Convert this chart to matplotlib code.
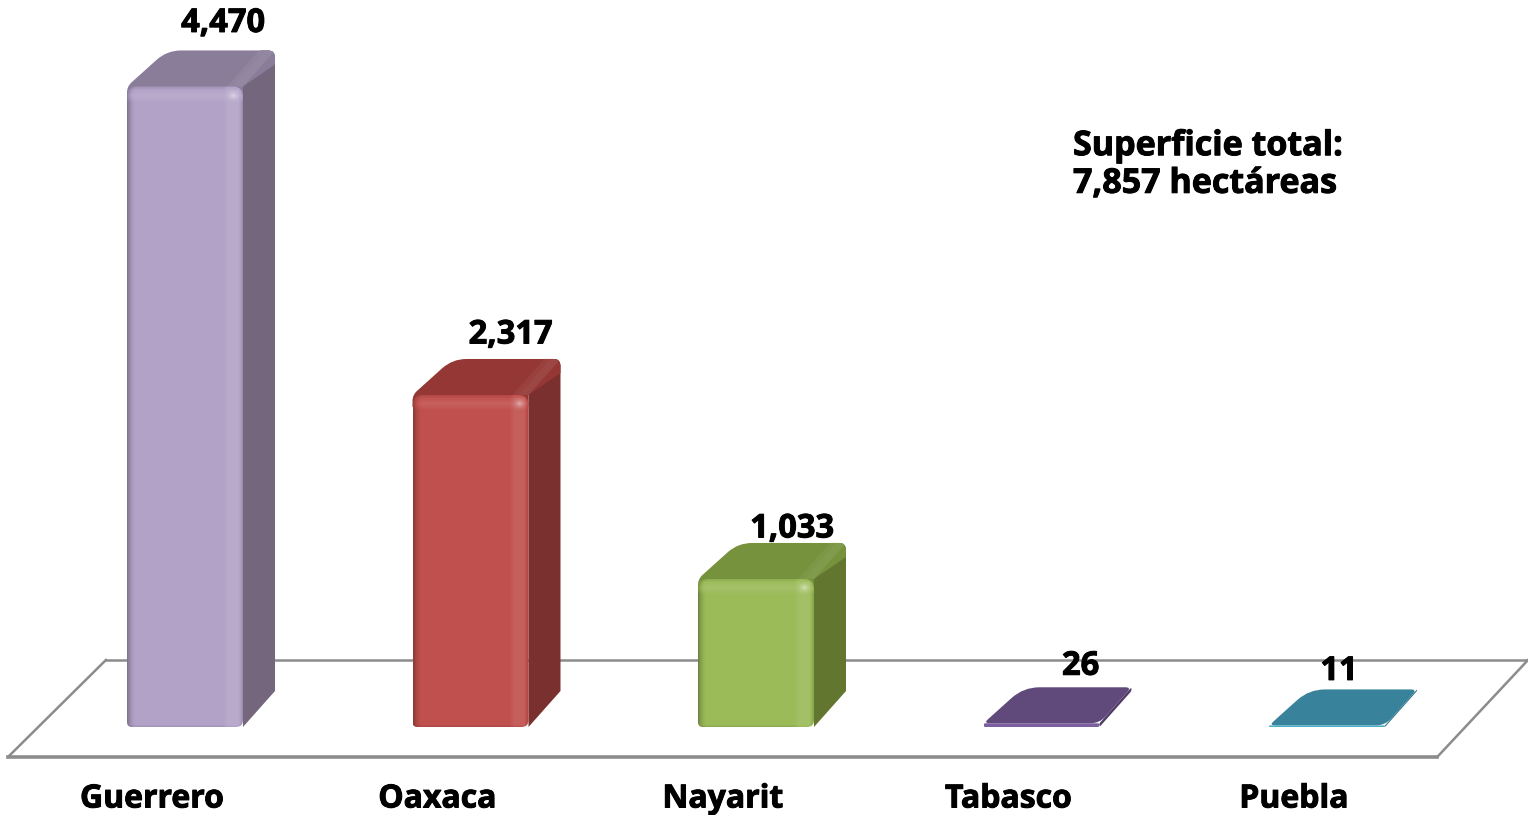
import numpy as np
import matplotlib
matplotlib.use('Agg')
import matplotlib.pyplot as plt
import matplotlib.patheffects as pe
from matplotlib.colors import to_rgb
from matplotlib.patches import PathPatch, Polygon
from matplotlib.path import Path

plt.rcParams['font.family'] = ['Open Sans', 'DejaVu Sans']

# Data
estados = ['Guerrero', 'Oaxaca', 'Nayarit', 'Tabasco', 'Puebla']
hectareas = [4470, 2317, 1033, 26, 11]
value_labels = ['4,470', '2,317', '1,033', '26', '11']
note = 'Superficie total:\n7,857 hectáreas'

# Bar colours
front_colors = ['#B3A2C7', '#C0504D', '#9BBB59', '#7B5FA0', '#4BACC6']
top_colors = ['#8A7D9A', '#953735', '#76923C', '#604A7B', '#38839B']
side_colors = ['#73667D', '#7A302E', '#62762F', '#4F3D66', '#2B6F82']

# Pixel scale of the chart (category step and pixels per hectare)
PX_X = 285.5
PX_Y = 0.1433
X0 = 185
Y0 = 727
WIDTH = 116 / PX_X
DX = 32 / PX_X
DY = 36 / PX_Y

heavy = [pe.withStroke(linewidth=0.7, foreground='black')]


def rounded(points, radii):
    # closed path with rounded corners, one radius in pixels per corner
    pts = np.array(points, dtype=float) * [PX_X, PX_Y]
    n = len(pts)
    verts, codes = [], []
    for i in range(n):
        prev_pt, cur, next_pt = pts[i - 1], pts[i], pts[(i + 1) % n]
        to_prev = prev_pt - cur
        to_next = next_pt - cur
        r = min(radii[i], np.hypot(*to_prev) / 2, np.hypot(*to_next) / 2)
        start = cur + to_prev / np.hypot(*to_prev) * r
        end = cur + to_next / np.hypot(*to_next) * r
        verts.append(start)
        codes.append(Path.MOVETO if i == 0 else Path.LINETO)
        verts += [cur, end]
        codes += [Path.CURVE3, Path.CURVE3]
    verts.append(verts[0])
    codes.append(Path.CLOSEPOLY)
    return Path(np.array(verts) / [PX_X, PX_Y], codes)


def face_shade(w, h):
    # bevel on the front face, +white / -black
    xx = np.arange(w)[None, :].repeat(h, axis=0).astype(float)
    yy = np.arange(h)[:, None].repeat(w, axis=1).astype(float)
    s = np.zeros((h, w))
    s -= 0.28 * np.clip(1 - xx / 9, 0, 1) ** 2
    s += 0.09 * np.clip((xx - (w - 20)) / 5, 0, 1) * np.clip((w - 1 - xx) / 5, 0, 1)
    s -= 0.15 * np.clip((xx - (w - 5)) / 5, 0, 1)
    s += 0.10 * np.clip(1 - np.abs(yy - 9) / 7, 0, 1)
    s -= 0.10 * np.clip(1 - yy / 4, 0, 1)
    s += 0.35 * np.clip(1 - np.hypot(xx - (w - 10), yy - 9) / 8, 0, 1) ** 2
    s -= 0.12 * np.clip((yy - (h - 3)) / 3, 0, 1)
    rgba = np.zeros((h, w, 4))
    rgba[..., :3] = (s > 0)[..., None]
    rgba[..., 3] = np.abs(s)
    return rgba


def blend(color, amount):
    c = np.array(to_rgb(color))
    return tuple(c + (1 - c) * amount)


fig = plt.figure(figsize=(15.28, 8.15), dpi=100)
ax = fig.add_axes([0, 0, 1, 1])
ax.axis('off')

# Floor of the 3D chart
floor_near = -30 / PX_Y
floor_far = 67 / PX_Y
floor_x = [-0.620, 4.386, 4.704, -0.277]
floor_y = [floor_near, floor_near, floor_far, floor_far]
ax.plot(floor_x[:2], floor_y[:2], color='#8C8C8C', lw=2.6, zorder=1)
ax.plot(floor_x[1:3], floor_y[1:3], color='#8C8C8C', lw=1.8, zorder=1)
ax.plot(floor_x[2:], floor_y[2:], color='#8C8C8C', lw=1.8, zorder=1)
ax.plot([floor_x[3], floor_x[0]], [floor_y[3], floor_y[0]], color='#8C8C8C', lw=1.8, zorder=1)

positions = np.arange(len(estados))
bars = ax.bar(positions, hectareas, width=WIDTH, color=front_colors, zorder=4)

for i, (bar, value) in enumerate(zip(bars, hectareas)):
    left = i - WIDTH / 2
    right = i + WIDTH / 2
    tall = value > 100
    back_right = right + DX
    back_top = value + DY
    back_left = left + DX + 8 / PX_X

    if tall:
        # side and top share the same rounded back corner, the front hides the rest
        side = [(right, 0), (back_right, DY), (back_right, back_top),
                (back_right - 14 / PX_X, back_top), (right, value)]
        side_r = [0, 0, 11, 0, 0]
        top = [(left, value - 12 / PX_Y), (right, value - 12 / PX_Y), (right, value),
               (back_right, back_top - 14 / PX_Y), (back_right, back_top),
               (back_left, back_top), (left, value)]
        top_r = [0, 0, 0, 0, 11, 14, 8]
    else:
        side = [(right, 0), (back_right, DY), (back_right, back_top), (right, value)]
        side_r = [4, 4, 4, 0]
        top = [(left, value), (right, value), (back_right, back_top), (back_left, back_top)]
        top_r = [6, 9, 6, 16]
    ax.add_patch(PathPatch(rounded(side, side_r), fc=side_colors[i], ec='none', zorder=2))
    top_patch = PathPatch(rounded(top, top_r), fc=top_colors[i], ec='none', zorder=3)
    ax.add_patch(top_patch)

    # lighter edge running along the top face to the back corner
    if tall:
        for shift, amount in [(16, 0.05), (10, 0.08)]:
            edge = [(right - shift / PX_X, value), (right, value), (back_right, back_top),
                    (back_right - shift / PX_X, back_top)]
            strip = Polygon(edge, fc=blend(top_colors[i], amount), ec='none', zorder=3)
            ax.add_patch(strip)
            strip.set_clip_path(top_patch)

    h_px = int(round(value * PX_Y))
    radii = [5, 7, 10, 10] if tall else [h_px / 2] * 4
    outline = rounded([(left, 0), (right, 0), (right, value), (left, value)], radii)
    clip = PathPatch(outline, transform=ax.transData, fc='none', ec='none')
    ax.add_patch(clip)
    bar.set_clip_path(clip)
    if tall:
        img = ax.imshow(face_shade(116, h_px), extent=(left, right, 0, value),
                        aspect='auto', zorder=5, interpolation='bilinear')
        img.set_clip_path(clip)

ax.set_xlim((0 - X0) / PX_X, (1528 - X0) / PX_X)
ax.set_ylim((Y0 - 815) / PX_Y, Y0 / PX_Y)

# Value labels, offsets in pixels from the top of each bar
label_dx = [38, 40, 36, 39, 12]
label_dy = [63, 60, 50, 57, 54]
for i, value in enumerate(hectareas):
    ax.annotate(value_labels[i], (i, value), xytext=(label_dx[i], label_dy[i]),
                textcoords='offset pixels', ha='center', va='center', fontsize=23.5,
                fontweight='bold', color='black', zorder=6, path_effects=heavy)

# Category names below the floor
for i, name in enumerate(estados):
    ax.annotate(name, (i, 0), xytext=(-33, -72), textcoords='offset pixels',
                ha='center', va='center', fontsize=23, fontweight='bold', color='black',
                zorder=6, path_effects=heavy)

ax.text(1073 / 1528, 1 - 165 / 815, note, transform=ax.transAxes, ha='left', va='center',
        fontsize=24.5, fontweight='bold', color='black', linespacing=1.14, path_effects=heavy)

fig.savefig('out.png', dpi=100)
